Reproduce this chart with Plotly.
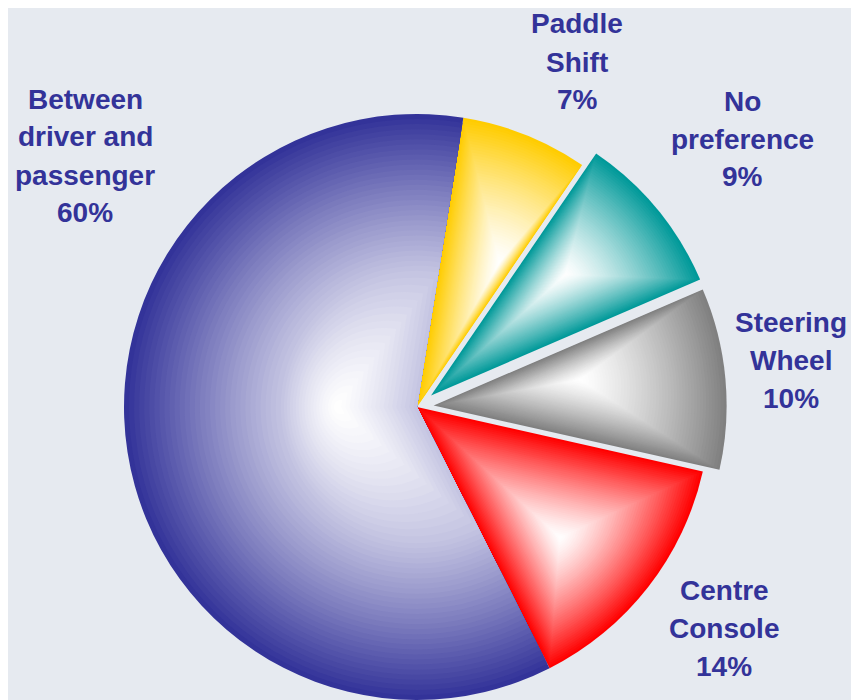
import math
import plotly.graph_objects as go

# ---------------- data ----------------
categories = ["Paddle Shift", "No preference", "Steering Wheel",
              "Centre Console", "Between driver and passenger"]
label_lines = [["Paddle", "Shift"], ["No", "preference"], ["Steering", "Wheel"],
               ["Centre", "Console"], ["Between", "driver and", "passenger"]]
values = [7, 9, 10, 14, 60]
colors = ["#FFCC00", "#009999", "#808080", "#FF0000", "#333399"]

# ---------------- layout constants ----------------
# the page body has an 8px margin, so the figure is drawn 8px right/down
W, H = 851, 692
CX, CY, R = 409, 399, 293          # pie centre / radius in figure pixels
ROTATION = 9.1                     # first slice start, degrees clockwise from 12 o'clock
PULL = {"No preference": 0.062, "Steering Wheel": 0.057}
BG = "#E6EAF0"
TEXT_COLOR = "#333399"
N_LAYERS = 50
LABEL_POS = {  # label block centres in figure pixels
    "Paddle Shift": (569, 54),
    "No preference": (734, 131),
    "Steering Wheel": (783, 352),
    "Centre Console": (716, 620),
    "Between driver and passenger": (77, 148),
}
LINE_STEP = 38
FONT_SIZE = 28


def hex_rgb(h):
    h = h.lstrip("#")
    return tuple(int(h[i:i + 2], 16) for i in (0, 2, 4))


def mix(col, a):
    r, g, b = hex_rgb(col)
    return "rgb(%d,%d,%d)" % (round(255 - (255 - r) * a),
                               round(255 - (255 - g) * a),
                               round(255 - (255 - b) * a))


def pt(angle_deg, rad):
    t = math.radians(angle_deg)
    return rad * math.sin(t), -rad * math.cos(t)


fig = go.Figure()
total = float(sum(values))
cum = 0.0
for i, (cat, v, col) in enumerate(zip(categories, values, colors)):
    a0 = ROTATION + 360.0 * cum / total
    a1 = a0 + 360.0 * v / total
    cum += v
    mid = (a0 + a1) / 2
    off = PULL.get(cat, 0.0) * R
    ox, oy = pt(mid, off)
    tx, ty = CX + ox, CY + oy                      # slice tip
    # bounding box of the slice (relative to the tip) -> gradient centre
    pts = [(0.0, 0.0), pt(a0, R), pt(a1, R)]
    k = math.ceil(a0 / 90.0)
    while k * 90 < a1:
        pts.append(pt(k * 90, R))
        k += 1
    xs = [p[0] for p in pts]
    ys = [p[1] for p in pts]
    hw = (max(xs) - min(xs)) / 2
    hh = (max(ys) - min(ys)) / 2
    gx = tx + (min(xs) + max(xs)) / 2
    gy = ty + (min(ys) + max(ys)) / 2
    # gradient level of the tip itself (1 when the tip is a bbox corner)
    s_tip = min(1.0, max(abs(tx - gx) / hw, abs(ty - gy) / hh))
    r_tip = (math.hypot(tx - gx, ty - gy) + s_tip * (hw + hh)) / 2 if s_tip < 0.999 else R

    for layer in range(N_LAYERS):
        s = 1.0 - layer / N_LAYERS
        if s >= s_tip and s_tip < 0.999:
            # tip stays put, radius shrinks
            px, py = tx, ty
            r = r_tip + (R - r_tip) * (s - s_tip) / (1 - s_tip)
        else:
            u = s / s_tip
            base_r = r_tip if s_tip < 0.999 else R
            px = gx + u * (tx - gx)
            py = gy + u * (ty - gy)
            r = u * base_r
        amount = s ** 1.3
        mcols = [mix(col, amount) if j == i else "rgba(0,0,0,0)"
                 for j in range(len(values))]
        dx = [max(0.0, (px - r) / W), min(1.0, (px + r) / W)]
        dy = [max(0.0, (H - py - r) / H), min(1.0, (H - py + r) / H)]
        fig.add_trace(go.Pie(
            labels=categories, values=values, sort=False,
            direction="clockwise", rotation=ROTATION,
            marker=dict(colors=mcols, line=dict(width=0)),
            textinfo="none", hoverinfo="skip", showlegend=False,
            domain=dict(x=dx, y=dy),
        ))

# labels
for cat, lines, v in zip(categories, label_lines, values):
    txt = lines + ["%d%%" % v]
    cx, cy = LABEL_POS[cat]
    n = len(txt)
    for j, line in enumerate(txt):
        y = cy + (j - (n - 1) / 2) * LINE_STEP
        fig.add_annotation(
            x=cx / W, y=1 - y / H, xref="paper", yref="paper",
            text="<b>%s</b>" % line, showarrow=False,
            xanchor="center", yanchor="middle",
            font=dict(family="Liberation Sans, Arial, sans-serif", size=FONT_SIZE,
                      color=TEXT_COLOR),
        )

fig.update_layout(
    width=W, height=H,
    margin=dict(l=0, r=0, t=0, b=0, pad=0),
    paper_bgcolor=BG, plot_bgcolor=BG,
    showlegend=False,
)
fig.write_html("out.html")
